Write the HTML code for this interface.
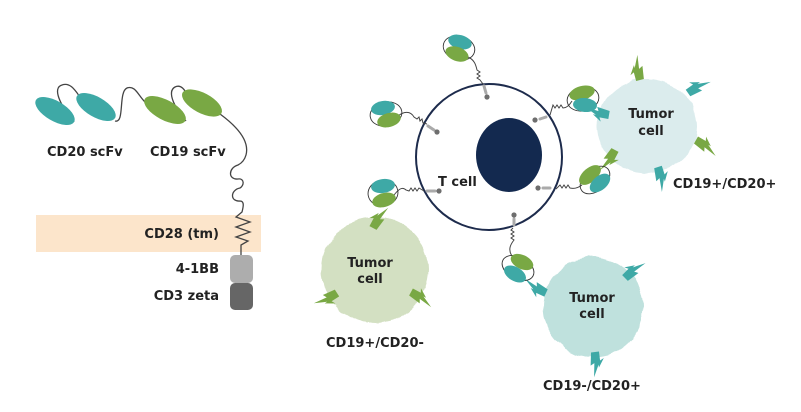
<!DOCTYPE html>
<html><head><meta charset="utf-8">
<style>
html,body{margin:0;padding:0;background:#fff;}
svg{display:block;}
text{font-family:"DejaVu Sans","Liberation Sans",sans-serif;font-weight:bold;font-size:13px;fill:#222;}
</style></head>
<body>
<svg width="801" height="412" viewBox="0 0 801 412" xmlns="http://www.w3.org/2000/svg">
<defs>
  <filter id="rough" x="-20%" y="-20%" width="140%" height="140%">
    <feTurbulence type="fractalNoise" baseFrequency="0.06" numOctaves="2" seed="7"/>
    <feDisplacementMap in="SourceGraphic" scale="6" xChannelSelector="R" yChannelSelector="G"/>
  </filter>
  <path id="bolt" d="M0,-4 L9,-4 L7,-8 L16,-2 L13,-2 L25,4 L11,2 L13,6 L0,4 Z"/>
</defs>

<!-- LEFT PANEL -->
<rect x="36" y="215" width="225" height="37" fill="#fce5cb"/>
<text x="47" y="156">CD20 scFv</text>
<text x="150" y="156">CD19 scFv</text>
<text x="219" y="238" text-anchor="end">CD28 (tm)</text>
<text x="219" y="273" text-anchor="end">4-1BB</text>
<text x="219" y="300" text-anchor="end">CD3 zeta</text>

<g fill="none" stroke="#444" stroke-width="1.3">
  <path d="M74,122 C60,105 52,88 62,85 C70,82 75,90 80,97"/>
  <path d="M115,121 C125,124 118,92 127,88 C135,85 138,95 145,102"/>
  <path d="M186,121 C176,110 166,92 175,87 C181,84 185,90 187,95"/>
  <path d="M220,114 C235,125 250,140 246,155 C244,162 240,164 238,165 C228,168 228,180 238,179 C245,178 244,186 240,188 C230,190 230,202 240,201 C245,201 243,208 242,212 L236,217 L250,222 L236,227 L250,232 L236,237 L248,241 L241,245 L241,256"/>
</g>
<ellipse cx="55" cy="111" rx="22" ry="10" transform="rotate(30 55 111)" fill="#3ea9a6"/>
<ellipse cx="96" cy="107" rx="22" ry="10" transform="rotate(30 96 107)" fill="#3ea9a6"/>
<ellipse cx="165" cy="110" rx="23" ry="10" transform="rotate(28 165 110)" fill="#79a844"/>
<ellipse cx="202" cy="103" rx="22" ry="10" transform="rotate(28 202 103)" fill="#79a844"/>
<rect x="230" y="255" width="23" height="28" rx="5" fill="#adadad"/>
<rect x="230" y="283" width="23" height="27" rx="5" fill="#666"/>

<!-- TUMOR CELLS -->
<ellipse cx="647" cy="126" rx="50" ry="47" fill="#dbeced" filter="url(#rough)"/>
<ellipse cx="375" cy="270" rx="53" ry="53" fill="#d3e0c2" filter="url(#rough)"/>
<ellipse cx="593" cy="307" rx="50" ry="50" fill="#bfe1dd" filter="url(#rough)"/>

<!-- free antigens -->
<use href="#bolt" fill="#79a844" transform="translate(640,80) rotate(-105)"/>
<use href="#bolt" fill="#3ea9a6" transform="translate(688,93) rotate(-35)"/>
<use href="#bolt" fill="#79a844" transform="translate(696,140) rotate(30)"/>
<use href="#bolt" fill="#3ea9a6" transform="translate(658,167) rotate(72)"/>
<use href="#bolt" fill="#79a844" transform="translate(337,293) rotate(147)"/>
<use href="#bolt" fill="#79a844" transform="translate(411,292) rotate(28)"/>
<use href="#bolt" fill="#3ea9a6" transform="translate(625,278) rotate(-45)"/>
<use href="#bolt" fill="#3ea9a6" transform="translate(595,352) rotate(83)"/>
<!-- bound antigens -->
<use href="#bolt" fill="#79a844" transform="translate(373,228) rotate(-62)"/>
<use href="#bolt" fill="#3ea9a6" transform="translate(609,115) rotate(190)"/>
<use href="#bolt" fill="#79a844" transform="translate(615,150) rotate(118)"/>
<use href="#bolt" fill="#3ea9a6" transform="translate(546,293) rotate(-155)"/>

<!-- T CELL -->
<circle cx="489" cy="157" r="73" fill="none" stroke="#1d2b4c" stroke-width="2"/>
<ellipse cx="509" cy="155" rx="33" ry="37" fill="#13294f"/>
<text x="438" y="186">T cell</text>

<!-- CARs -->
<g fill="none" stroke="#444" stroke-width="1">
  <path d="M468,57 C475,60 476,66 477,70 l3,2 l-3,2 l3,2 l-3,2 l3,2 L483,84"/>
  <path d="M398,116 C403,112 410,110 414,117 l3,2 l2,-2 l1,4 l2,-2 l1,4 L427,124"/>
  <path d="M394,195 C398,190 402,186 406,190 l3,1 l2,-3 l2,3 l2,-3 l2,3 l2,-3 L424,191"/>
  <path d="M572,101 C569,106 566,108 563,108 l-2,-3 l-2,3 l-2,-3 l-2,3 l-2,-3 L550,115"/>
  <path d="M582,185 C578,188 574,189 570,188 l-2,-3 l-2,3 l-2,-3 l-2,3 l-2,-3 L556,189"/>
  <path d="M513,228 l-2,2 l3,2 l-3,2 l3,2 l-3,2 l3,2 C510,245 508,250 512,256"/>
</g>
<g fill="none" stroke="#333" stroke-width="0.9">
  <ellipse cx="459" cy="48" rx="16" ry="12" transform="rotate(15 459 48)"/>
  <ellipse cx="386" cy="114" rx="16" ry="12" transform="rotate(-12 386 114)"/>
  <ellipse cx="383" cy="193" rx="15" ry="13" transform="rotate(-10 383 193)"/>
  <ellipse cx="583" cy="99" rx="16" ry="12" transform="rotate(-12 583 99)"/>
  <ellipse cx="595" cy="180" rx="17" ry="11" transform="rotate(-40 595 180)"/>
  <ellipse cx="518" cy="268" rx="17" ry="11" transform="rotate(28 518 268)"/>
</g>
<ellipse cx="460" cy="42" rx="12" ry="7" transform="rotate(15 460 42)" fill="#3ea9a6"/>
<ellipse cx="457" cy="54" rx="12" ry="7" transform="rotate(20 457 54)" fill="#79a844"/>
<ellipse cx="383" cy="108" rx="12" ry="7" transform="rotate(-10 383 108)" fill="#3ea9a6"/>
<ellipse cx="389" cy="120" rx="12" ry="7" transform="rotate(-15 389 120)" fill="#79a844"/>
<ellipse cx="383" cy="186" rx="12" ry="7" transform="rotate(-8 383 186)" fill="#3ea9a6"/>
<ellipse cx="384" cy="200" rx="12" ry="7" transform="rotate(-15 384 200)" fill="#79a844"/>
<ellipse cx="582" cy="93" rx="13" ry="7" transform="rotate(-15 582 93)" fill="#79a844"/>
<ellipse cx="585" cy="105" rx="12" ry="7" transform="rotate(5 585 105)" fill="#3ea9a6"/>
<ellipse cx="590" cy="175" rx="13" ry="7" transform="rotate(-40 590 175)" fill="#79a844"/>
<ellipse cx="600" cy="183" rx="12" ry="7" transform="rotate(-40 600 183)" fill="#3ea9a6"/>
<ellipse cx="522" cy="262" rx="12" ry="7" transform="rotate(25 522 262)" fill="#79a844"/>
<ellipse cx="515" cy="274" rx="12" ry="7" transform="rotate(30 515 274)" fill="#3ea9a6"/>

<g stroke="#aaa" stroke-width="3" stroke-linecap="round">
  <line x1="484" y1="86" x2="486" y2="93"/>
  <line x1="428" y1="126" x2="434" y2="130"/>
  <line x1="427" y1="191" x2="435" y2="191"/>
  <line x1="546" y1="117" x2="540" y2="119"/>
  <line x1="550" y1="188" x2="543" y2="188"/>
  <line x1="514" y1="225" x2="514" y2="219"/>
</g>
<g fill="#6e6e6e">
  <circle cx="487" cy="97" r="2.6"/>
  <circle cx="437" cy="132" r="2.6"/>
  <circle cx="439" cy="191" r="2.6"/>
  <circle cx="535" cy="120" r="2.6"/>
  <circle cx="538" cy="188" r="2.6"/>
  <circle cx="514" cy="215" r="2.6"/>
</g>

<text x="651" y="118" text-anchor="middle">Tumor</text>
<text x="651" y="135" text-anchor="middle">cell</text>
<text x="673" y="188">CD19+/CD20+</text>
<text x="370" y="267" text-anchor="middle">Tumor</text>
<text x="370" y="283" text-anchor="middle">cell</text>
<text x="326" y="347">CD19+/CD20-</text>
<text x="592" y="302" text-anchor="middle">Tumor</text>
<text x="592" y="318" text-anchor="middle">cell</text>
<text x="543" y="390">CD19-/CD20+</text>
</svg>
</body></html>
